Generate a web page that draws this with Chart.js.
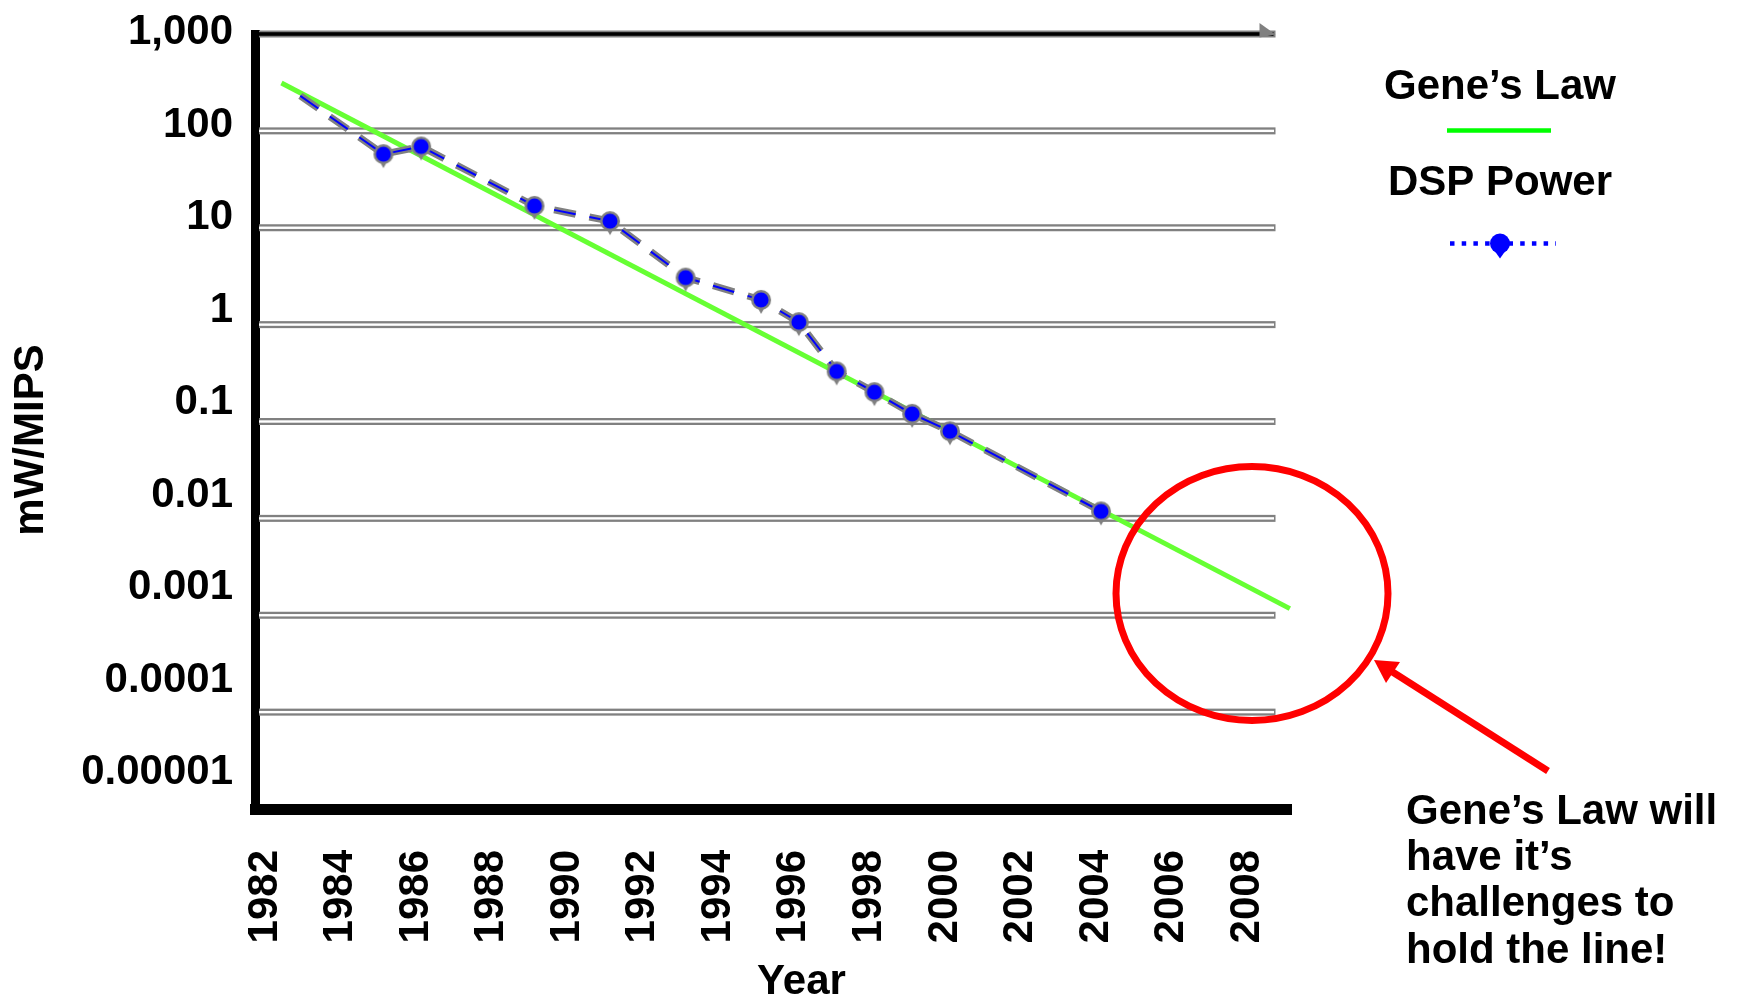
<!DOCTYPE html>
<html>
<head>
<meta charset="utf-8">
<title>Gene's Law - DSP Power</title>
<script src="https://cdn.jsdelivr.net/npm/chart.js@4.4.1/dist/chart.umd.min.js"></script>
<style>
html, body { margin: 0; padding: 0; background: #fff; }
#wrap { width: 1741px; height: 1004px; position: relative; }
</style>
</head>
<body>
<div id="wrap"><canvas id="chart"></canvas></div>
<script>
// Year labels on the x axis
var yearTicks = [1982, 1984, 1986, 1988, 1990, 1992, 1994, 1996, 1998, 2000, 2002, 2004, 2006, 2008];
// Decades on the y axis (mW/MIPS)
var decadeValues = [0.00001, 0.0001, 0.001, 0.01, 0.1, 1, 10, 100, 1000];
var decadeLabels = ['0.00001', '0.0001', '0.001', '0.01', '0.1', '1', '10', '100', '1,000'];

// Gene's Law trend line
var geneYears = [1982.3, 2009];
var geneValues = [312, 0.00117];

// DSP power (mW/MIPS)
var dspYears = [1982.8, 1985, 1986, 1989, 1991, 1993, 1995, 1996, 1997, 1998, 1999, 2000, 2004];
var dspValues = [230, 57.5, 69, 16.8, 11.7, 3.06, 1.8, 1.06, 0.329, 0.201, 0.12, 0.0793, 0.0118];

var legendLabels = ['Gene\u2019s Law', 'DSP Power'];
var noteLines = ['Gene\u2019s Law will', 'have it\u2019s', 'challenges to', 'hold the line!'];
var axisTitles = { x: 'Year', y: 'mW/MIPS' };

var FONT = "'Liberation Sans', Arial, Helvetica, sans-serif";
var gridEndYear = 2008.62;

function pts(xs, ys) {
    return xs.map(function (x, i) { return { x: x, y: ys[i] }; });
}

// marker: circle with a small point underneath
function makePin(ring, fill) {
    var c = document.createElement('canvas');
    c.width = 30; c.height = 30;
    var g = c.getContext('2d');
    g.fillStyle = ring;
    g.beginPath(); g.moveTo(10, 20); g.lineTo(20, 20); g.lineTo(15, 29); g.closePath(); g.fill();
    g.beginPath(); g.arc(15, 15, 10, 0, Math.PI * 2); g.fill();
    g.fillStyle = fill;
    g.beginPath(); g.arc(15, 15, 7.5, 0, Math.PI * 2); g.fill();
    return c;
}
var pin = makePin('#808080', '#0000ff');

// double gridlines, top line with arrow
var gridPlugin = {
    id: 'doubleGrid',
    beforeDatasetsDraw: function (chart) {
        var ctx = chart.ctx, ys = chart.scales.y, xs = chart.scales.x;
        var left = chart.chartArea.left + 4;
        var right = xs.getPixelForValue(gridEndYear);
        var top = decadeValues[decadeValues.length - 1];
        ctx.save();
        decadeValues.forEach(function (v) {
            if (v === decadeValues[0]) return;
            var py = ys.getPixelForValue(v);
            ctx.fillStyle = '#808080';
            ctx.fillRect(left, py - 3.5, right - left, 7);
            if (v === top) {
                ctx.fillStyle = '#000';
                ctx.fillRect(left, py - 1.8, right - left - 2, 3.6);
            } else {
                ctx.fillStyle = '#fff';
                ctx.fillRect(left, py - 1.2, right - left - 1.5, 2.4);
            }
        });
        var pt = ys.getPixelForValue(top);
        ctx.fillStyle = '#808080';
        ctx.beginPath();
        ctx.moveTo(right - 16, pt - 11);
        ctx.lineTo(right, pt + 0.5);
        ctx.lineTo(right - 16, pt + 3.5);
        ctx.closePath();
        ctx.fill();
        ctx.restore();
    }
};

// legend, titles and the red note
var notesPlugin = {
    id: 'notes',
    afterDraw: function (chart) {
        var ctx = chart.ctx;
        ctx.save();
        ctx.fillStyle = '#000';
        ctx.font = 'bold 42px ' + FONT;
        ctx.textAlign = 'center';
        ctx.textBaseline = 'middle';

        // legend
        ctx.fillText(legendLabels[0], 1500, 87);
        ctx.fillText(legendLabels[1], 1500, 183);
        ctx.strokeStyle = '#00ff00';
        ctx.lineWidth = 4.5;
        ctx.beginPath(); ctx.moveTo(1447, 130.5); ctx.lineTo(1551, 130.5); ctx.stroke();
        ctx.strokeStyle = '#0000ff';
        ctx.setLineDash([4.5, 7.2]);
        ctx.beginPath(); ctx.moveTo(1450, 243.5); ctx.lineTo(1556, 243.5); ctx.stroke();
        ctx.setLineDash([]);
        ctx.fillStyle = '#0000ff';
        ctx.beginPath(); ctx.arc(1500, 243.5, 10, 0, Math.PI * 2); ctx.fill();
        ctx.beginPath(); ctx.moveTo(1494, 250); ctx.lineTo(1506, 250); ctx.lineTo(1500, 258.5); ctx.closePath(); ctx.fill();

        // axis titles
        ctx.fillStyle = '#000';
        ctx.fillText(axisTitles.x, 801.5, 982);
        ctx.save();
        ctx.translate(31, 440);
        ctx.rotate(-Math.PI / 2);
        ctx.fillText(axisTitles.y, 0, 0);
        ctx.restore();

        // red ellipse and arrow
        ctx.strokeStyle = '#ff0000';
        ctx.lineWidth = 7;
        ctx.beginPath();
        ctx.ellipse(1252, 593.5, 136, 127, 0, 0, Math.PI * 2);
        ctx.stroke();
        ctx.beginPath(); ctx.moveTo(1548, 771); ctx.lineTo(1391, 671); ctx.stroke();
        ctx.fillStyle = '#ff0000';
        ctx.beginPath();
        ctx.moveTo(1374, 660); ctx.lineTo(1400, 662); ctx.lineTo(1386, 683);
        ctx.closePath(); ctx.fill();

        // note text
        ctx.fillStyle = '#000';
        ctx.textAlign = 'left';
        ctx.textBaseline = 'alphabetic';
        noteLines.forEach(function (line, i) {
            ctx.fillText(line, 1406, 824 + i * 46.2);
        });
        ctx.restore();
    }
};

var tickFont = { family: FONT, size: 42, weight: 'bold' };

var ctx = document.getElementById('chart').getContext('2d');
new Chart(ctx, {
    type: 'line',
    data: {
        datasets: [{
            label: legendLabels[0],
            data: pts(geneYears, geneValues),
            yAxisID: 'y',
            borderColor: '#66ff33',
            borderWidth: 5,
            pointRadius: 0,
            order: 3
        }, {
            label: legendLabels[1] + ' outline',
            data: pts(dspYears, dspValues),
            yAxisID: 'y',
            borderColor: '#808080',
            borderWidth: 7,
            borderDash: [22, 14],
            pointRadius: 0,
            order: 2
        }, {
            label: legendLabels[1],
            data: pts(dspYears, dspValues),
            yAxisID: 'y',
            borderColor: '#0000ff',
            borderWidth: 2,
            borderDash: [22, 14],
            pointStyle: pin,
            pointRadius: dspYears.map(function (y, i) { return i === 0 ? 0 : 10; }),
            order: 1
        }]
    },
    options: {
        animation: false,
        responsive: true,
        maintainAspectRatio: false,
        events: [],
        layout: { padding: { left: 0, top: 34, right: 450, bottom: 0 } },
        plugins: {
            legend: { display: false },
            tooltip: { enabled: false }
        },
        scales: {
            x: {
                type: 'linear',
                min: 1981.6,
                max: 2009.03,
                afterBuildTicks: function (s) {
                    s.ticks = yearTicks.map(function (v) { return { value: v }; });
                },
                afterFit: function (s) {
                    s.height = 195;
                    s.paddingLeft = 0; s.paddingRight = 0;
                    s.paddingTop = 0; s.paddingBottom = 0;
                },
                grid: { display: false, drawTicks: false },
                border: { display: true, color: '#000', width: 11 },
                ticks: {
                    autoSkip: false,
                    minRotation: 90,
                    maxRotation: 90,
                    padding: 41,
                    labelOffset: -5,
                    color: '#000',
                    font: tickFont,
                    callback: function (v) { return String(v); }
                }
            },
            y: {
                type: 'logarithmic',
                display: false,
                min: 0.00001,
                max: 1000
            },
            // label axis: the printed decade labels sit a little above their gridlines
            yl: {
                type: 'logarithmic',
                position: 'left',
                min: 0.00000407,
                max: 964,
                afterBuildTicks: function (s) {
                    s.ticks = decadeValues.map(function (v) { return { value: v }; });
                },
                afterFit: function (s) {
                    s.width = 255;
                    s.paddingLeft = 0; s.paddingRight = 0;
                    s.paddingTop = 0; s.paddingBottom = 0;
                },
                grid: { display: false, drawTicks: false },
                border: { display: true, color: '#000', width: 9 },
                ticks: {
                    padding: 22,
                    color: '#000',
                    font: tickFont,
                    callback: function (v, i) { return decadeLabels[i]; }
                }
            }
        }
    },
    plugins: [gridPlugin, notesPlugin]
});
</script>
</body>
</html>
